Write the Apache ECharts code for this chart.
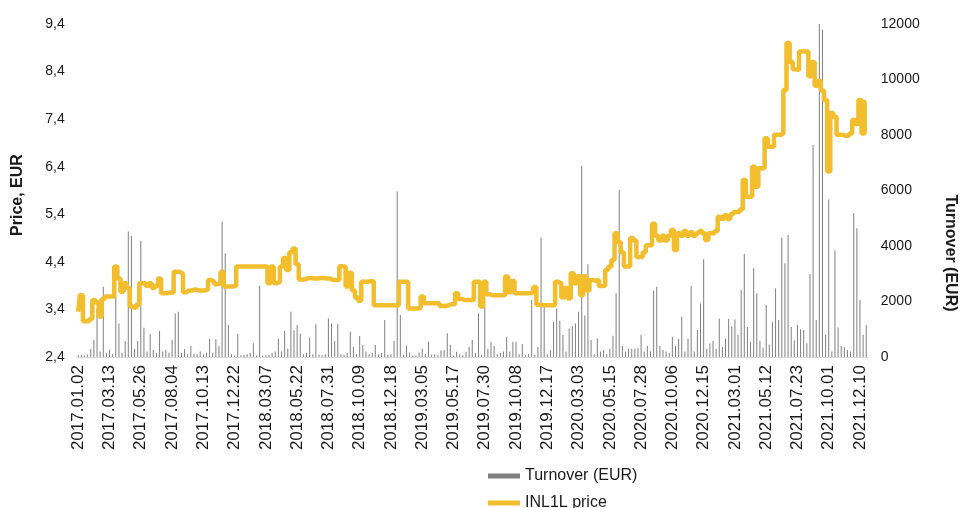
<!DOCTYPE html>
<html>
<head>
<meta charset="utf-8">
<script src="https://cdn.jsdelivr.net/npm/echarts@6/dist/echarts.min.js"></script>
<style>
html,body{margin:0;padding:0;background:#fff;}
#chart{width:962px;height:508px;}
</style>
</head>
<body>
<div id="chart"></div>
<script>
// Date tick labels (one every 10 points on the category axis)
const tickLabels = ['2017.01.02','2017.03.13','2017.05.26','2017.08.04','2017.10.13','2017.12.22',
 '2018.03.07','2018.05.22','2018.07.31','2018.10.09','2018.12.18','2019.03.05','2019.05.17',
 '2019.07.30','2019.10.08','2019.12.17','2020.03.03','2020.05.15','2020.07.28','2020.10.06',
 '2020.12.15','2021.03.01','2021.05.12','2021.07.23','2021.10.01','2021.12.10'];

// INL1L price, EUR
const price = [
 3.35,3.7,3.15,3.15,3.2,3.6,3.55,3.25,3.62,3.67,
 3.67,3.67,4.3,4.05,3.77,3.95,3.85,3.46,3.42,3.5,
 3.95,3.95,3.9,3.95,3.85,3.9,4.05,3.74,3.74,3.76,
 3.75,4.19,4.19,4.15,3.76,3.8,3.8,3.82,3.8,3.8,
 3.8,3.82,4.02,3.98,3.93,3.95,4.19,3.88,3.88,3.88,
 3.9,4.3,4.3,4.3,4.3,4.3,4.3,4.3,4.3,4.3,
 4.3,3.95,4.3,3.95,3.98,4.3,4.48,4.23,4.6,4.68,
 4.35,4.03,4.03,4.06,4.06,4.05,4.05,4.06,4.06,4.05,
 4.05,4.02,4.02,4.02,4.31,4.3,3.88,4.17,3.8,3.65,
 3.58,3.98,3.98,3.99,3.99,3.49,3.49,3.49,3.49,3.49,
 3.49,3.49,3.49,3.98,3.98,3.98,3.42,3.42,3.42,3.43,
 3.67,3.53,3.53,3.53,3.53,3.53,3.47,3.47,3.49,3.51,
 3.51,3.74,3.62,3.6,3.6,3.6,3.6,3.98,3.98,3.46,
 3.98,3.72,3.7,3.7,3.7,3.7,3.7,4.09,3.76,4.0,
 3.74,3.74,3.74,3.74,3.74,3.76,3.87,3.5,3.49,3.49,
 3.49,3.49,3.49,3.98,3.95,3.65,3.85,3.63,4.16,3.95,
 4.1,3.7,4.1,3.8,4.02,4.0,4.02,3.89,3.9,4.23,
 4.3,4.44,5.0,4.82,4.6,4.3,4.3,4.9,4.85,4.5,
 4.5,4.6,4.75,4.75,5.2,4.95,4.85,4.95,4.85,4.95,
 5.07,4.65,5.0,4.95,5.05,4.95,5.02,4.95,5.0,5.05,
 5.0,4.86,5.0,5.0,5.05,5.35,5.3,5.38,5.3,5.4,
 5.45,5.45,5.5,6.12,5.77,5.77,6.4,5.98,6.37,6.37,
 7.0,6.82,6.82,7.07,7.07,7.1,8.01,9.0,8.6,8.45,
 8.43,8.82,8.82,8.82,8.3,8.6,8.1,8.2,8.0,7.8,
 6.3,7.53,7.45,7.07,7.07,7.05,7.05,7.1,7.38,7.3,
 7.8,7.1,7.76
];

// Turnover, EUR
const turnover = [
 60,80,50,100,290,610,1750,200,2530,150,
 260,120,2170,1210,150,580,4520,4360,300,580,
 4190,1050,200,820,250,150,940,200,250,150,
 610,1570,1630,150,280,100,400,120,100,200,
 100,150,660,150,650,400,4880,3740,1150,100,
 50,830,60,80,100,150,500,50,2560,50,
 60,80,150,200,660,200,940,300,1630,960,
 1150,840,100,150,700,100,1180,80,60,100,
 1390,1210,580,1190,100,80,150,910,370,100,
 760,430,200,100,150,430,100,140,1330,80,
 100,580,5960,1510,80,410,160,60,50,160,
 300,100,550,80,100,60,240,240,860,430,
 50,190,100,60,190,370,610,150,1570,80,
 1810,300,550,400,100,150,200,730,200,550,
 540,100,470,60,100,2050,80,360,4310,1810,
 100,250,1270,1750,1310,790,200,1030,1120,1210,
 1630,6880,1500,3340,610,100,680,200,250,100,
 300,770,2300,6020,400,200,300,300,300,330,
 790,200,400,200,2390,2530,400,250,200,150,
 730,400,650,1450,200,670,2560,200,970,1930,
 3520,300,490,580,300,1390,360,670,1370,1100,
 1350,790,2410,3710,1080,550,3200,2300,580,330,
 1870,450,1270,2470,1330,4310,3380,4400,1080,600,
 1150,1000,970,500,2990,7640,1330,12000,11790,800,
 5680,200,3850,1060,400,350,250,200,5180,4640,
 2050,800,1150
];

const priceTicks = [2.4,3.4,4.4,5.4,6.4,7.4,8.4,9.4];
const turnoverTicks = [0,2000,4000,6000,8000,10000,12000];

const categories = price.map((_, i) => (i % 10 === 0 ? tickLabels[i / 10] : ''));

const FONT = '"Liberation Sans", Arial, sans-serif';
const TXT = '#1a1a1a';
const legendCommon = {
  orient: 'vertical', left: 483, itemWidth: 32, itemHeight: 5,
  textStyle: {fontSize: 16, color: TXT, fontFamily: FONT}
};

const chart = echarts.init(document.getElementById('chart'), null, {renderer: 'canvas'});
chart.setOption({
  animation: false,
  backgroundColor: '#ffffff',
  textStyle: {fontFamily: FONT},
  grid: {left: 76.7, right: 94.2, top: 24, bottom: 151, containLabel: false},
  legend: [
    Object.assign({top: 463, data: [{name: 'Turnover (EUR)', icon: 'rect'}]}, legendCommon),
    Object.assign({top: 490, data: [{name: 'INL1L price', icon: 'rect'}]}, legendCommon)
  ],
  xAxis: {
    type: 'category', data: categories, boundaryGap: true,
    axisLine: {lineStyle: {color: '#d9d9d9', width: 1}},
    axisTick: {show: false},
    axisLabel: {interval: 9, rotate: 90, fontSize: 17, color: TXT, margin: 8, fontFamily: FONT},
    splitLine: {show: false}
  },
  yAxis: [
    {
      type: 'value', position: 'left', min: priceTicks[0], max: priceTicks[priceTicks.length - 1],
      axisLine: {show: false}, axisTick: {show: false, customValues: priceTicks},
      splitLine: {show: false},
      axisLabel: {customValues: priceTicks, fontSize: 14, color: TXT, margin: 12, fontFamily: FONT,
        formatter: v => v.toFixed(1).replace('.', ',')}
    },
    {
      type: 'value', position: 'right', min: turnoverTicks[0], max: turnoverTicks[turnoverTicks.length - 1], interval: 2000,
      axisLine: {show: false}, axisTick: {show: false},
      splitLine: {show: false},
      axisLabel: {fontSize: 14, color: TXT, margin: 13, fontFamily: FONT, formatter: v => String(v)}
    }
  ],
  graphic: [
    {type: 'text', x: 18, y: 195, rotation: Math.PI / 2,
      style: {text: 'Price, EUR', font: 'bold 16px ' + FONT, fill: TXT, align: 'center', verticalAlign: 'middle'}},
    {type: 'text', x: 950, y: 253, rotation: -Math.PI / 2,
      style: {text: 'Turnover (EUR)', font: 'bold 16px ' + FONT, fill: TXT, align: 'center', verticalAlign: 'middle'}}
  ],
  series: [
    {
      name: 'Turnover (EUR)', type: 'bar', yAxisIndex: 1, data: turnover,
      barWidth: 1, itemStyle: {color: '#7f7f7f'}, z: 1
    },
    {
      name: 'INL1L price', type: 'line', yAxisIndex: 0, data: price,
      step: 'middle', symbol: 'none', showSymbol: false,
      lineStyle: {color: '#F2BE2E', width: 4.5}, itemStyle: {color: '#F2BE2E'}, z: 3
    }
  ]
});
</script>
</body>
</html>
